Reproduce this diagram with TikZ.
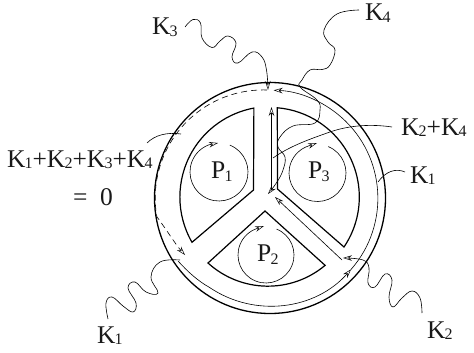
\documentclass[tikz,border=0pt]{standalone}
\usepackage{fontspec}
\setmainfont{Liberation Serif}
\usetikzlibrary{arrows.meta}
\newcommand{\kk}[1]{K\kern-0.8pt\raisebox{-1.5pt}{\fontsize{16}{16}\selectfont #1}}
\newcommand{\pp}[1]{P\kern-0.5pt\raisebox{-3pt}{\fontsize{16}{16}\selectfont #1}}
\tikzset{
  thickline/.style={line width=1.2pt,line join=miter},
  thinline/.style={line width=0.6pt},
  head/.style={-{Stealth[length=9pt,width=5.5pt,inset=3pt,open,line width=0.5pt]}},
  lab/.style={anchor=base west,inner sep=0pt,outer sep=0pt,font=\fontsize{25.5}{25.5}\selectfont,text=black!90}
}
\newcommand{\loopcirc}[4]{%
  \draw[thinline,head] (#1,#2)+(68:#3pt) arc[start angle=68,end angle=-250,radius=#3pt] -- #4;}
\begin{document}
\begin{tikzpicture}[x=1pt,y=-1pt]
\useasboundingbox (0,0) rectangle (474,353);
% circles
\coordinate (c) at (270,198);
\draw[line width=1.3pt] (c) circle[radius=115.5pt];
% sectors
\draw[thickline] (253.5,190) -- (192,242.3) arc[start angle=210,end angle=100.5,radius=90.5pt] -- cycle;
\draw[thickline] (277.5,189) -- (344,247) arc[start angle=-34,end angle=85.2,radius=89.5pt] -- cycle;
\draw[thickline] (265,211) -- (208,263) arc[start angle=227.7,end angle=310,radius=89pt] -- cycle;
% small circles
\loopcirc{219}{172}{29}{(218,143)}
\loopcirc{317.5}{173}{28.5}{(317,143)}
\loopcirc{266}{255}{28}{(264,226)}
% thin inner circle
\coordinate (thinstart) at (178,261);
\coordinate (thinmid) at (351,269.5);
\draw[thinline,head] (thinstart) .. controls (188,272) and (198,281) .. (209.6,287.5) arc[start angle=236,end angle=318.7,radius=108pt];
\draw[thinline,head] (thinmid) arc[start angle=318.7,end angle=448,radius=108pt];
% dashed
\draw[thinline,head,dashed,dash pattern=on 6pt off 4pt] (267,90) arc[start angle=88,end angle=190,radius=108pt] .. controls (168,232) and (176,245) .. (185,255);
% vertical and diagonal arrows
\coordinate (junction) at (271.5,190);
\draw[thinline,head] (junction) -- (271.5,107);
\draw[thinline,head] (342,260) -- (275,197);
% K3
\draw[thinline,head] plot[smooth,tension=0.7] coordinates {(185,27) (193,19.5) (200.5,23) (202,38) (212,47.5) (220,41) (228,36) (236,43) (232,57) (238,63) (252,52) (262,57) (266.5,70) (268,90)};
% K4
\draw[thinline,head] plot[smooth,tension=0.7] coordinates {(359,10) (337,14) (324,30) (328,42) (335,50) (330,65) (322,69.5) (310,70) (302,80) (300,87) (317,100) (320,110) (315,123) (293,126) (280,137) (278,147) (285,157) (283,170) (277,182) (268,194)};
% K2+K4
\draw[thinline] (392,127) .. controls (372,124) and (350,125) .. (330,132) .. controls (310,139) and (290,146) .. (273,158);
% K1 right
\draw[thinline] (405,172) .. controls (396,168) and (386,171) .. (378,182);
% sum line
\draw[thinline] (147,143) .. controls (155,135) and (167,132) .. (181,134);
% K1 lower
\draw[thinline] plot[smooth,tension=0.7] coordinates {(108,319) (106,303) (112,297) (123,306) (133,312) (136,303) (128,288) (135,282) (146,292) (158,293) (151,277) (160,262) (180,260)};
% K2
\draw[thinline,head] plot[smooth,tension=0.7] coordinates {(422,313) (420,298) (412,291) (402,298) (393,307) (389,297) (392,280) (385,274) (375,287) (368,283) (369,268) (363,260) (343,258)};
% labels
\node[lab] (k3) at (152,35) {\kk{3}};
\node[lab] (k4) at (365,21) {\kk{4}};
\node[lab] (k24) at (401,135) {\kk{2}+\kk{4}};
\node[lab] (k1r) at (410,183) {\kk{1}};
\node[lab] (k2) at (427,338) {\kk{2}};
\node[lab] (k1b) at (97,343) {\kk{1}};
\node[lab] (sum) at (7,167) {\kk{1}+\kk{2}+\kk{3}+\kk{4}};
\node[lab] (zero) at (73,205) {=\ \ 0};
\node[lab] (p1) at (211,178) {\pp{1}};
\node[lab] (p3) at (308,178) {\pp{3}};
\node[lab] (p2) at (257,261) {\pp{2}};
\end{tikzpicture}
\end{document}
